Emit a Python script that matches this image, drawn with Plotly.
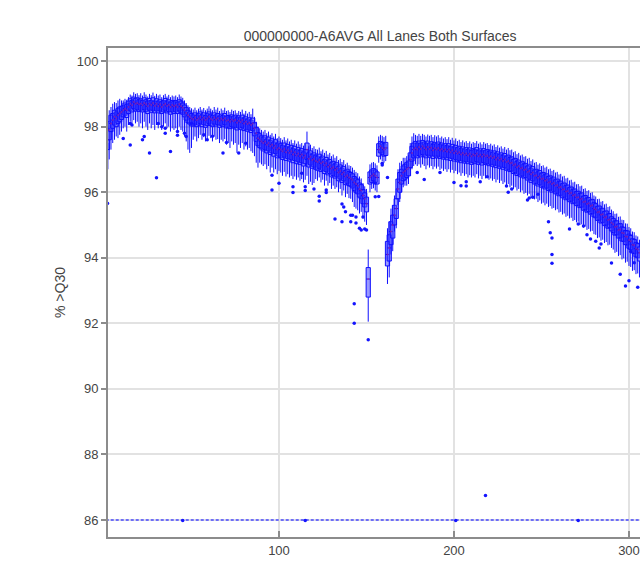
import plotly.graph_objects as go

cycles = list(range(1, 307))

median = [
97.0, 97.6, 97.9, 98.1, 98.2, 98.3, 98.25, 98.35, 98.4, 98.45,
98.5, 98.55, 98.5, 98.6, 98.7, 98.65, 98.75, 98.7, 98.72, 98.68,
98.7, 98.65, 98.72, 98.68, 98.62, 98.7, 98.66, 98.72, 98.64, 98.7,
98.62, 98.68, 98.6, 98.66, 98.7, 98.63, 98.67, 98.6, 98.66, 98.62,
98.65, 98.6, 98.68, 98.62, 98.58, 98.5, 98.42, 98.35, 98.3, 98.25,
98.22, 98.28, 98.2, 98.25, 98.3, 98.22, 98.27, 98.2, 98.25, 98.3,
98.24, 98.2, 98.28, 98.22, 98.26, 98.18, 98.24, 98.2, 98.26, 98.18,
98.2, 98.15, 98.22, 98.17, 98.2, 98.12, 98.18, 98.14, 98.2, 98.1,
98.15, 98.08, 98.12, 98.05, 98.1, 97.95, 97.8, 97.65, 97.6, 97.55,
97.5, 97.55, 97.45, 97.5, 97.4, 97.45, 97.35, 97.42, 97.3, 97.35,
97.3, 97.25, 97.32, 97.22, 97.28, 97.2, 97.25, 97.15, 97.22, 97.12,
97.18, 97.1, 97.15, 97.05, 97.12, 97.3, 97.02, 97.08, 96.98, 97.02,
96.95, 96.92, 96.98, 96.88, 96.92, 96.82, 96.88, 96.78, 96.82, 96.72,
96.76, 96.68, 96.72, 96.6, 96.65, 96.55, 96.6, 96.48, 96.52, 96.45,
96.42, 96.38, 96.3, 96.25, 96.2, 96.1, 96.05, 95.9, 95.8, 95.65,
93.35, 96.45, 96.5, 96.55, 96.5, 96.45, 97.3, 97.4, 97.35, 97.3,
97.35, 94.1, 94.3, 94.8, 95.0, 95.3, 95.5, 96.1, 96.3, 96.5,
96.6, 96.65, 96.7, 96.75, 97.0, 97.2, 97.3, 97.35, 97.3, 97.38,
97.32, 97.4, 97.35, 97.3, 97.38, 97.32, 97.36, 97.28, 97.34, 97.3,
97.35, 97.28, 97.32, 97.26, 97.3, 97.24, 97.3, 97.22, 97.28, 97.2,
97.25, 97.18, 97.22, 97.15, 97.2, 97.14, 97.18, 97.12, 97.17, 97.1,
97.15, 97.12, 97.18, 97.1, 97.14, 97.08, 97.15, 97.1, 97.12, 97.06,
97.1, 97.04, 97.08, 97.0, 97.05, 96.98, 97.02, 96.95, 97.0, 96.92,
96.95, 96.88, 96.9, 96.82, 96.85, 96.76, 96.8, 96.72, 96.75, 96.68,
96.7, 96.62, 96.65, 96.55, 96.6, 96.5, 96.52, 96.44, 96.48, 96.4,
96.42, 96.35, 96.38, 96.3, 96.32, 96.25, 96.28, 96.2, 96.22, 96.14,
96.16, 96.08, 96.1, 96.02, 96.04, 95.96, 95.98, 95.9, 95.92, 95.84,
95.85, 95.78, 95.8, 95.7, 95.72, 95.64, 95.66, 95.58, 95.6, 95.5,
95.47, 95.39, 95.4, 95.31, 95.33, 95.23, 95.25, 95.15, 95.17, 95.07,
95.02, 94.94, 94.95, 94.85, 94.86, 94.76, 94.75, 94.65, 94.64, 94.54,
94.5, 94.4, 94.38, 94.28, 94.25, 94.15,
]

q3 = [
97.5, 97.95, 98.15, 98.35, 98.4, 98.5, 98.45, 98.55, 98.6, 98.62,
98.65, 98.72, 98.68, 98.78, 98.85, 98.8, 98.9, 98.86, 98.88, 98.82,
98.85, 98.8, 98.88, 98.82, 98.78, 98.86, 98.8, 98.88, 98.78, 98.85,
98.78, 98.82, 98.76, 98.8, 98.86, 98.78, 98.82, 98.75, 98.8, 98.77,
98.8, 98.75, 98.82, 98.78, 98.72, 98.66, 98.58, 98.5, 98.45, 98.4,
98.36, 98.42, 98.35, 98.4, 98.45, 98.36, 98.42, 98.34, 98.4, 98.45,
98.38, 98.34, 98.42, 98.36, 98.4, 98.32, 98.38, 98.34, 98.4, 98.32,
98.34, 98.3, 98.36, 98.32, 98.35, 98.27, 98.33, 98.29, 98.35, 98.26,
98.3, 98.23, 98.27, 98.2, 98.26, 98.12, 97.98, 97.82, 97.78, 97.72,
97.68, 97.72, 97.62, 97.68, 97.58, 97.63, 97.53, 97.6, 97.48, 97.53,
97.48, 97.43, 97.5, 97.4, 97.46, 97.38, 97.43, 97.33, 97.4, 97.3,
97.36, 97.28, 97.33, 97.23, 97.3, 97.5, 97.2, 97.26, 97.16, 97.2,
97.13, 97.1, 97.16, 97.06, 97.1, 97.0, 97.06, 96.96, 97.0, 96.9,
96.94, 96.86, 96.9, 96.78, 96.83, 96.73, 96.78, 96.66, 96.7, 96.63,
96.6, 96.56, 96.48, 96.43, 96.38, 96.28, 96.23, 96.08, 95.98, 95.85,
93.7, 96.62, 96.68, 96.72, 96.68, 96.62, 97.48, 97.55, 97.52, 97.48,
97.52, 94.5, 94.7, 95.1, 95.3, 95.6, 95.8, 96.4, 96.6, 96.7,
96.8, 96.85, 96.9, 96.95, 97.2, 97.4, 97.5, 97.55, 97.5, 97.56,
97.5, 97.58, 97.53, 97.48, 97.56, 97.5, 97.54, 97.46, 97.52, 97.48,
97.53, 97.46, 97.5, 97.44, 97.48, 97.42, 97.48, 97.4, 97.46, 97.38,
97.43, 97.36, 97.4, 97.33, 97.38, 97.32, 97.36, 97.3, 97.35, 97.28,
97.33, 97.3, 97.36, 97.28, 97.32, 97.26, 97.33, 97.28, 97.3, 97.24,
97.28, 97.22, 97.26, 97.18, 97.23, 97.16, 97.2, 97.13, 97.18, 97.1,
97.13, 97.06, 97.08, 97.0, 97.03, 96.94, 96.98, 96.9, 96.93, 96.86,
96.88, 96.8, 96.83, 96.73, 96.78, 96.68, 96.7, 96.62, 96.66, 96.58,
96.6, 96.53, 96.56, 96.48, 96.5, 96.43, 96.46, 96.38, 96.4, 96.32,
96.34, 96.26, 96.28, 96.2, 96.22, 96.14, 96.16, 96.08, 96.1, 96.02,
96.03, 95.96, 95.98, 95.88, 95.9, 95.82, 95.84, 95.76, 95.78, 95.68,
95.65, 95.57, 95.58, 95.49, 95.51, 95.41, 95.43, 95.33, 95.35, 95.25,
95.2, 95.12, 95.13, 95.03, 95.04, 94.94, 94.93, 94.83, 94.82, 94.72,
94.68, 94.58, 94.56, 94.46, 94.43, 94.33,
]

q1 = [
96.7, 97.3, 97.6, 97.85, 97.95, 98.05, 98.0, 98.1, 98.15, 98.22,
98.3, 98.35, 98.28, 98.4, 98.5, 98.45, 98.55, 98.48, 98.52, 98.46,
98.5, 98.45, 98.52, 98.46, 98.4, 98.5, 98.44, 98.5, 98.42, 98.48,
98.42, 98.48, 98.4, 98.45, 98.5, 98.42, 98.46, 98.38, 98.45, 98.4,
98.45, 98.4, 98.48, 98.42, 98.38, 98.3, 98.2, 98.12, 98.08, 98.02,
98.02, 98.08, 98.0, 98.05, 98.1, 98.0, 98.06, 97.98, 98.04, 98.1,
98.04, 98.0, 98.08, 98.02, 98.06, 97.98, 98.04, 98.0, 98.06, 97.96,
97.98, 97.94, 98.0, 97.96, 97.98, 97.9, 97.96, 97.92, 97.98, 97.88,
97.92, 97.86, 97.9, 97.82, 97.88, 97.72, 97.55, 97.42, 97.36, 97.32,
97.26, 97.3, 97.2, 97.26, 97.15, 97.2, 97.1, 97.18, 97.05, 97.1,
97.05, 97.0, 97.07, 96.97, 97.03, 96.95, 97.0, 96.9, 96.97, 96.87,
96.93, 96.85, 96.9, 96.8, 96.87, 97.0, 96.77, 96.83, 96.73, 96.77,
96.7, 96.67, 96.73, 96.63, 96.67, 96.57, 96.63, 96.53, 96.57, 96.47,
96.51, 96.43, 96.47, 96.35, 96.4, 96.3, 96.35, 96.23, 96.27, 96.2,
96.18, 96.13, 96.05, 96.0, 95.95, 95.85, 95.8, 95.65, 95.55, 95.4,
92.8, 96.25, 96.3, 96.35, 96.3, 96.25, 97.1, 97.2, 97.15, 97.1,
97.12, 93.75, 93.9, 94.4, 94.6, 95.0, 95.2, 95.8, 96.0, 96.25,
96.35, 96.4, 96.45, 96.5, 96.75, 96.95, 97.05, 97.1, 97.05, 97.12,
97.08, 97.15, 97.1, 97.05, 97.13, 97.07, 97.11, 97.03, 97.1, 97.05,
97.1, 97.03, 97.07, 97.01, 97.05, 96.99, 97.05, 96.97, 97.03, 96.95,
97.0, 96.93, 96.97, 96.9, 96.95, 96.89, 96.93, 96.87, 96.92, 96.85,
96.9, 96.87, 96.93, 96.85, 96.89, 96.83, 96.9, 96.85, 96.87, 96.81,
96.85, 96.79, 96.83, 96.75, 96.8, 96.73, 96.77, 96.7, 96.75, 96.67,
96.7, 96.63, 96.65, 96.57, 96.6, 96.51, 96.55, 96.47, 96.5, 96.43,
96.45, 96.37, 96.4, 96.3, 96.35, 96.25, 96.27, 96.19, 96.23, 96.15,
96.17, 96.1, 96.13, 96.05, 96.07, 96.0, 96.03, 95.95, 95.97, 95.89,
95.91, 95.83, 95.85, 95.77, 95.79, 95.71, 95.73, 95.65, 95.67, 95.59,
95.6, 95.53, 95.55, 95.45, 95.47, 95.39, 95.41, 95.33, 95.35, 95.25,
95.22, 95.14, 95.15, 95.06, 95.08, 94.98, 95.0, 94.9, 94.92, 94.82,
94.77, 94.69, 94.7, 94.6, 94.61, 94.51, 94.5, 94.4, 94.39, 94.29,
94.25, 94.15, 94.13, 94.03, 94.0, 93.9,
]

upper = [
98.0, 98.3, 98.5, 98.6, 98.7, 98.75, 98.72, 98.8, 98.85, 98.8,
98.8, 98.85, 98.82, 98.9, 98.98, 98.95, 99.05, 99.0, 99.02, 98.96,
99.02, 98.95, 99.05, 98.98, 98.92, 99.0, 98.96, 99.04, 98.94, 99.0,
98.95, 98.98, 98.9, 98.96, 99.0, 98.92, 98.97, 98.9, 98.95, 98.92,
98.95, 98.9, 98.98, 98.92, 98.88, 98.8, 98.72, 98.65, 98.6, 98.56,
98.52, 98.58, 98.5, 98.55, 98.6, 98.52, 98.57, 98.5, 98.55, 98.62,
98.55, 98.5, 98.6, 98.52, 98.58, 98.48, 98.55, 98.5, 98.58, 98.48,
98.5, 98.45, 98.52, 98.48, 98.5, 98.42, 98.48, 98.45, 98.52, 98.4,
98.48, 98.4, 98.45, 98.38, 98.55, 98.3, 98.15, 98.0, 97.95, 97.9,
97.85, 97.9, 97.8, 97.85, 97.75, 97.8, 97.7, 97.78, 97.65, 97.7,
97.65, 97.6, 97.68, 97.58, 97.64, 97.55, 97.6, 97.5, 97.58, 97.48,
97.55, 97.46, 97.5, 97.42, 97.48, 97.85, 97.4, 97.45, 97.35, 97.4,
97.32, 97.3, 97.36, 97.25, 97.3, 97.2, 97.26, 97.15, 97.2, 97.1,
97.15, 97.05, 97.1, 96.98, 97.02, 96.92, 96.98, 96.85, 96.9, 96.82,
96.8, 96.75, 96.68, 96.62, 96.58, 96.48, 96.42, 96.28, 96.18, 96.1,
94.25, 96.85, 96.9, 96.92, 96.88, 96.82, 97.7, 97.75, 97.72, 97.68,
97.72, 94.9, 95.1, 95.5, 95.6, 95.9, 96.1, 96.7, 96.9, 96.95,
97.05, 97.05, 97.1, 97.15, 97.5, 97.7, 97.8, 97.75, 97.72, 97.78,
97.72, 97.78, 97.75, 97.7, 97.76, 97.72, 97.75, 97.68, 97.74, 97.7,
97.74, 97.66, 97.7, 97.64, 97.68, 97.62, 97.68, 97.6, 97.66, 97.58,
97.64, 97.56, 97.6, 97.53, 97.58, 97.52, 97.56, 97.5, 97.55, 97.48,
97.53, 97.5, 97.56, 97.48, 97.52, 97.46, 97.53, 97.48, 97.5, 97.44,
97.48, 97.42, 97.46, 97.38, 97.43, 97.36, 97.4, 97.33, 97.38, 97.3,
97.35, 97.28, 97.3, 97.22, 97.25, 97.16, 97.2, 97.12, 97.15, 97.08,
97.1, 97.02, 97.05, 96.95, 97.0, 96.9, 96.92, 96.84, 96.88, 96.8,
96.82, 96.75, 96.78, 96.7, 96.72, 96.65, 96.68, 96.6, 96.62, 96.54,
96.56, 96.48, 96.5, 96.42, 96.44, 96.36, 96.38, 96.3, 96.32, 96.24,
96.25, 96.18, 96.2, 96.1, 96.12, 96.04, 96.06, 95.98, 96.0, 95.9,
95.87, 95.79, 95.8, 95.71, 95.73, 95.63, 95.65, 95.55, 95.57, 95.47,
95.42, 95.34, 95.35, 95.25, 95.26, 95.16, 95.15, 95.05, 95.04, 94.94,
94.9, 94.8, 94.78, 94.68, 94.65, 94.55,
]

lower = [
96.3, 96.6, 97.0, 97.3, 97.5, 97.6, 97.7, 97.65, 97.75, 97.85,
97.95, 98.0, 97.85, 98.05, 98.15, 98.05, 98.2, 98.1, 98.15, 98.0,
98.1, 97.95, 98.15, 98.0, 97.9, 98.1, 97.95, 98.05, 97.9, 98.05,
97.95, 98.05, 97.9, 98.0, 98.1, 97.95, 98.0, 97.85, 97.95, 97.9,
97.95, 97.9, 98.0, 97.9, 97.85, 97.7, 97.55, 97.3, 97.2, 97.35,
97.6, 97.7, 97.55, 97.65, 97.75, 97.6, 97.68, 97.55, 97.62, 97.72,
97.65, 97.55, 97.7, 97.6, 97.62, 97.5, 97.6, 97.55, 97.62, 97.45,
97.5, 97.35, 97.55, 97.45, 97.5, 97.2, 97.45, 97.35, 97.5, 97.3,
97.4, 97.3, 97.35, 97.25, 97.2, 97.1, 96.9, 96.75, 96.9, 96.85,
96.8, 96.85, 96.7, 96.8, 96.6, 96.75, 96.6, 96.7, 96.55, 96.65,
96.6, 96.5, 96.62, 96.48, 96.55, 96.45, 96.5, 96.4, 96.48, 96.38,
96.45, 96.35, 96.4, 96.3, 96.38, 96.5, 96.25, 96.32, 96.22, 96.28,
96.4, 96.35, 96.45, 96.3, 96.38, 96.2, 96.35, 96.2, 96.28, 96.1,
96.2, 96.1, 96.15, 96.0, 96.1, 95.9, 96.05, 95.85, 95.95, 95.82,
95.8, 95.7, 95.55, 95.5, 95.45, 95.35, 95.4, 95.2, 95.1, 95.0,
92.05, 96.0, 96.1, 96.12, 96.05, 96.0, 96.9, 97.0, 96.95, 96.9,
96.95, 93.2, 93.4, 94.1, 94.2, 94.8, 94.9, 95.6, 95.7, 96.0,
96.15, 96.2, 96.2, 96.25, 96.5, 96.7, 96.8, 96.85, 96.8, 96.85,
96.75, 96.85, 96.8, 96.7, 96.82, 96.75, 96.8, 96.7, 96.78, 96.72,
96.78, 96.68, 96.72, 96.65, 96.7, 96.62, 96.7, 96.6, 96.68, 96.58,
96.65, 96.55, 96.6, 96.5, 96.58, 96.5, 96.55, 96.45, 96.52, 96.45,
96.5, 96.45, 96.55, 96.42, 96.5, 96.4, 96.5, 96.42, 96.48, 96.38,
96.42, 96.35, 96.4, 96.3, 96.38, 96.28, 96.35, 96.25, 96.3, 96.2,
96.25, 96.15, 96.2, 96.1, 96.15, 96.05, 96.1, 96.0, 96.05, 95.95,
95.98, 95.9, 95.95, 95.82, 95.88, 95.78, 95.8, 95.7, 95.75, 95.65,
95.68, 95.6, 95.65, 95.55, 95.58, 95.5, 95.52, 95.45, 95.48, 95.38,
95.4, 95.32, 95.35, 95.25, 95.28, 95.2, 95.22, 95.12, 95.15, 95.08,
95.1, 95.0, 95.02, 94.92, 94.95, 94.85, 94.88, 94.8, 94.82, 94.72,
94.7, 94.6, 94.62, 94.52, 94.55, 94.45, 94.48, 94.38, 94.4, 94.3,
94.25, 94.15, 94.18, 94.05, 94.08, 93.95, 93.98, 93.85, 93.88, 93.75,
93.72, 93.6, 93.62, 93.5, 93.52, 93.4,
]

outlier_x = [2, 11, 15, 15, 16, 22, 23, 26, 30, 31, 33, 35, 35, 38, 42, 42, 46, 47, 50,
             57, 59, 62, 68, 70, 77, 81, 96, 96, 100, 108, 108, 113, 115, 115, 120, 123,
             123, 127, 127, 132, 136, 136, 137, 138, 141, 141, 142, 144, 144, 143, 143,
             146, 147, 148, 149, 150, 151, 155, 155, 157, 159, 159, 162, 179, 183, 192,
             200, 204, 207, 207, 215, 219, 218, 230, 231, 233, 242, 243, 245, 248, 254,
             255, 256, 256, 256, 266, 271, 274, 276, 278, 281, 284, 283, 290, 295, 298,
             300, 301, 303, 305, 45, 115, 201, 271]
outlier_y = [95.66, 97.64, 97.44, 98.1, 98.05, 97.6, 97.7, 97.2, 96.44, 98.1, 98.0, 97.95,
             97.8, 97.24, 97.85, 97.74, 97.8, 97.7, 98.1, 97.75, 97.6, 97.71, 97.2, 97.52,
             97.2, 97.49, 96.52, 96.07, 96.27, 96.17, 95.99, 96.58, 96.17, 96.05, 96.1,
             95.88, 95.73, 96.07, 95.99, 95.18, 95.1, 95.64, 95.55, 95.4, 95.3, 95.1, 95.3,
             95.24, 95.06, 92.6, 92.0, 94.9, 94.85, 95.24, 94.88, 94.85, 91.5, 96.28, 95.86,
             95.87, 96.88, 96.83, 96.45, 96.6, 96.39, 96.6, 96.3, 96.2, 96.32, 96.19, 96.32,
             96.47, 86.75, 96.19, 96.0, 96.1, 95.76, 95.82, 95.85, 95.94, 95.1, 94.76, 94.6,
             94.1, 93.83, 94.88, 95.03, 94.97, 94.7, 94.57, 94.5, 94.42, 94.3, 93.84, 93.5,
             93.14, 93.3, 94.19, 93.85, 93.1, 85.98, 85.98, 85.98, 85.98]

baseline = [86.0] * len(cycles)

title_text = "000000000-A6AVG All Lanes Both Surfaces"
y_title = "% >Q30"
y_ticks = [86, 88, 90, 92, 94, 96, 98, 100]
x_ticks = [100, 200, 300]

fig = go.Figure()

fig.add_trace(go.Scatter(
    x=cycles, y=baseline, mode="lines",
    line=dict(color="rgba(70,70,255,0.75)", width=2, dash="3px,2px"),
    hoverinfo="skip", showlegend=False,
))

fig.add_trace(go.Box(
    x=cycles, q1=q1, median=median, q3=q3,
    lowerfence=lower, upperfence=upper,
    width=2.4, whiskerwidth=0,
    line=dict(color="rgb(15,15,255)", width=1),
    fillcolor="rgba(70,70,255,0.55)",
    showlegend=False,
))

fig.add_trace(go.Scatter(
    x=cycles, y=median, mode="markers",
    marker=dict(color="rgba(200,40,120,0.5)", size=2),
    showlegend=False, hoverinfo="skip",
))

fig.add_trace(go.Scatter(
    x=outlier_x, y=outlier_y, mode="markers",
    marker=dict(color="rgb(20,20,255)", size=3.5),
    showlegend=False,
))

axis_line = "#8c8c8c"
fig.update_layout(
    width=640, height=561,
    margin=dict(l=108, r=0, t=48, b=24, autoexpand=False),
    paper_bgcolor="white", plot_bgcolor="white",
    font=dict(family="Arial, Liberation Sans, sans-serif", size=13, color="#444"),
    title=dict(text=title_text, x=0.594, xanchor="center", y=0.936, yanchor="middle",
               font=dict(size=14, color="#444")),
)
fig.update_xaxes(
    range=[2.3, 306.3], tickvals=x_ticks, ticks="inside", ticklen=6, tickcolor=axis_line,
    tickwidth=2, showgrid=True, gridcolor="#e2e2e2", gridwidth=2, zeroline=False,
    showline=True, linecolor=axis_line, linewidth=2, mirror=True,
    tickfont=dict(size=13, color="#444"), automargin=False,
)
fig.update_yaxes(
    range=[85.48, 100.4], tickvals=y_ticks, ticks="outside", ticklen=5, tickcolor=axis_line,
    tickwidth=2, showgrid=True, gridcolor="#e2e2e2", gridwidth=2, zeroline=False,
    showline=True, linecolor=axis_line, linewidth=2,
    title=dict(text=y_title, font=dict(size=14, color="#444"), standoff=8),
    tickfont=dict(size=13, color="#444"), automargin=False,
)

fig.write_html(
    "out.html",
    config={"displayModeBar": False},
    post_script="document.body.style.margin='0';document.body.style.overflow='hidden';",
)
